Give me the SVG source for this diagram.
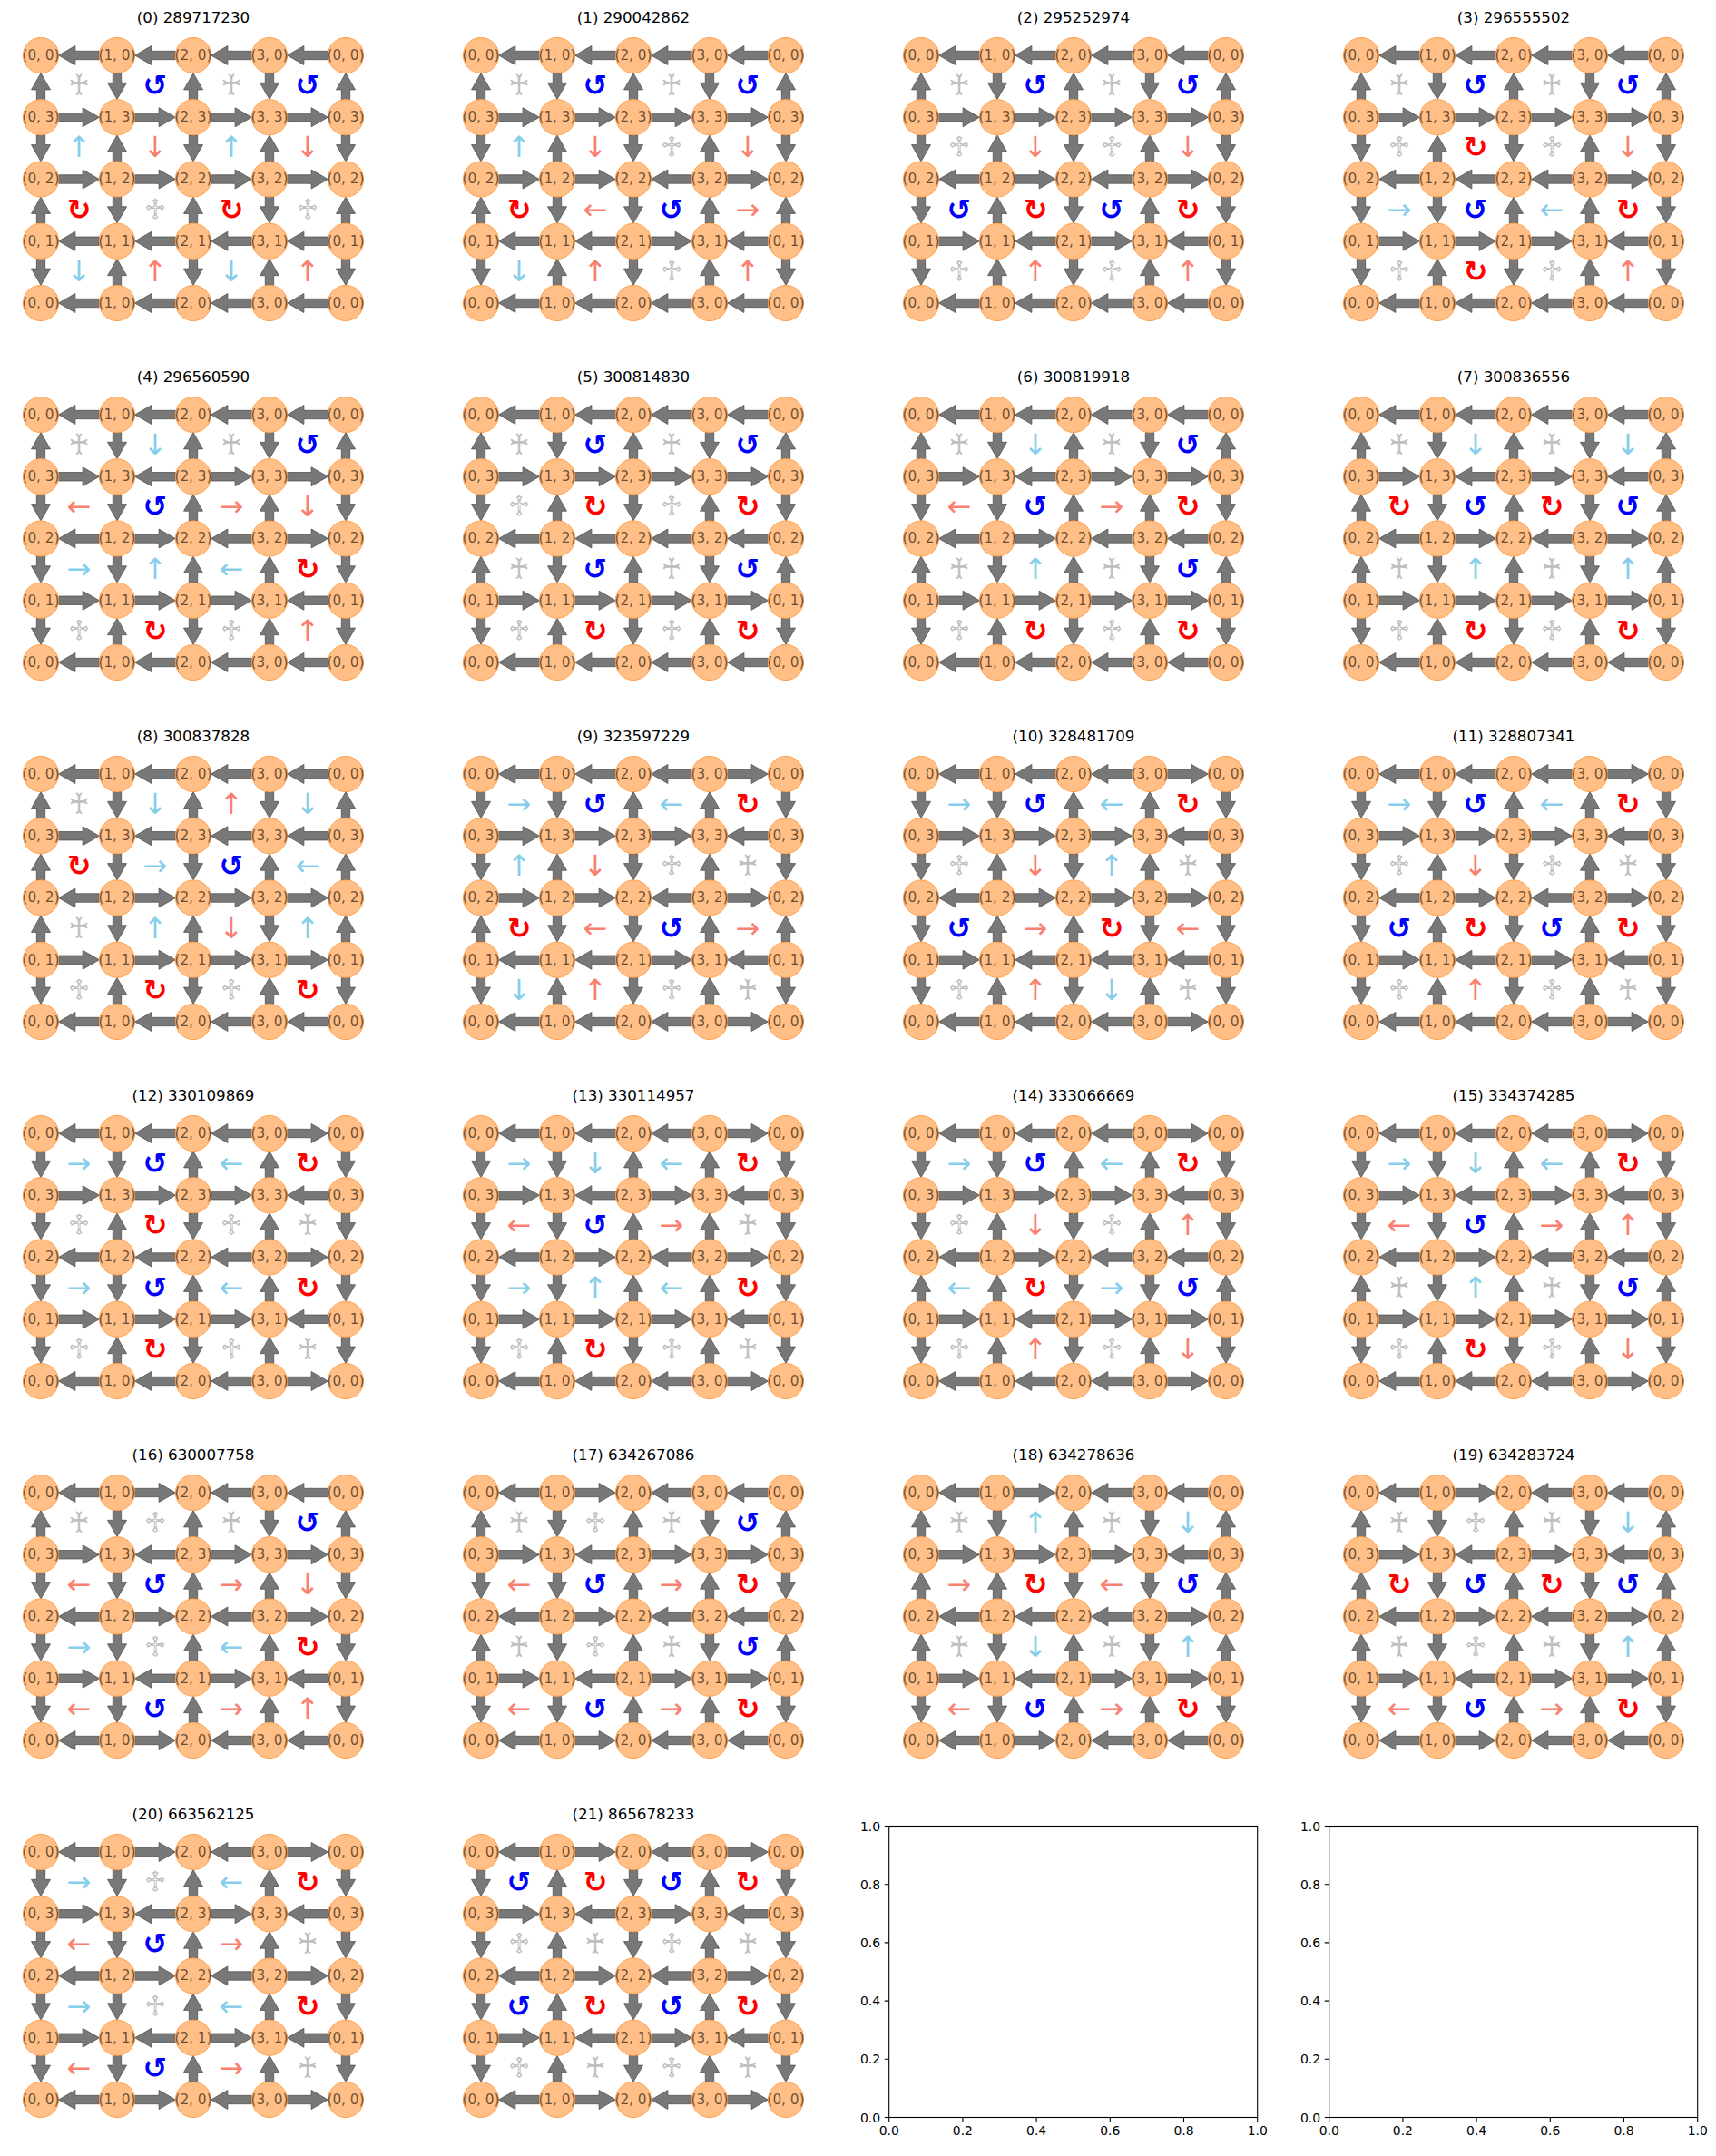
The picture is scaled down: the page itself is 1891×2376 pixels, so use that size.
<svg xmlns="http://www.w3.org/2000/svg" xmlns:xlink="http://www.w3.org/1999/xlink" width="1891" height="2376" viewBox="0 0 1891 2376">
<style>
.ar{fill:#787878;stroke:#505050;stroke-width:.8}
#grid circle{fill:#ffbf86;stroke:#ffa04c;stroke-width:1}
#grid text{font-family:"DejaVu Sans",sans-serif;font-size:15.3px;text-anchor:middle;fill:#000;fill-opacity:.6}
.t{font-family:"DejaVu Sans",sans-serif;font-size:16.67px;text-anchor:middle;fill:#000}
.s{font-family:"DejaVu Sans",sans-serif;font-size:32px;text-anchor:middle}
.bo{font-weight:bold}
.k{fill:#87ceeb}.m{fill:#fa8072}.b{fill:#0000ff}.r{fill:#ff0000}.g{fill:#c0c0c0}
.tk{font-family:"DejaVu Sans",sans-serif;font-size:13.9px;fill:#000}
</style>
<defs>
<path id="R" class="ar" d="M-22.4-4.7H4.1V-10.5L22.4 0 4.1 10.5V4.7H-22.4Z"/>
<path id="L" class="ar" d="M22.4-4.7H-4.1V-10.5L-22.4 0-4.1 10.5V4.7H22.4Z"/>
<path id="D" class="ar" d="M-4.7-14.5V-3.8H-10.5L0 14.5 10.5-3.8H4.7V-14.5Z"/>
<path id="U" class="ar" d="M-4.7 14.5V3.8H-10.5L0-14.5 10.5 3.8H4.7V14.5Z"/>
<g id="hLLLL"><use href="#L" x="87"/><use href="#L" x="171"/><use href="#L" x="255"/><use href="#L" x="339"/></g>
<g id="hRRRR"><use href="#R" x="87"/><use href="#R" x="171"/><use href="#R" x="255"/><use href="#R" x="339"/></g>
<g id="hRRLR"><use href="#R" x="87"/><use href="#R" x="171"/><use href="#L" x="255"/><use href="#R" x="339"/></g>
<g id="hLLRL"><use href="#L" x="87"/><use href="#L" x="171"/><use href="#R" x="255"/><use href="#L" x="339"/></g>
<g id="hLRLR"><use href="#L" x="87"/><use href="#R" x="171"/><use href="#L" x="255"/><use href="#R" x="339"/></g>
<g id="hRLRL"><use href="#R" x="87"/><use href="#L" x="171"/><use href="#R" x="255"/><use href="#L" x="339"/></g>
<g id="hLLLR"><use href="#L" x="87"/><use href="#L" x="171"/><use href="#L" x="255"/><use href="#R" x="339"/></g>
<g id="hRRRL"><use href="#R" x="87"/><use href="#R" x="171"/><use href="#R" x="255"/><use href="#L" x="339"/></g>
<g id="hRLRR"><use href="#R" x="87"/><use href="#L" x="171"/><use href="#R" x="255"/><use href="#R" x="339"/></g>
<g id="hLRLL"><use href="#L" x="87"/><use href="#R" x="171"/><use href="#L" x="255"/><use href="#L" x="339"/></g>
<g id="hRLLL"><use href="#R" x="87"/><use href="#L" x="171"/><use href="#L" x="255"/><use href="#L" x="339"/></g>
<g id="hLRRR"><use href="#L" x="87"/><use href="#R" x="171"/><use href="#R" x="255"/><use href="#R" x="339"/></g>
<g id="vUDUDU"><use href="#U" x="45"/><use href="#D" x="129"/><use href="#U" x="213"/><use href="#D" x="297"/><use href="#U" x="381"/></g>
<g id="vDUDUD"><use href="#D" x="45"/><use href="#U" x="129"/><use href="#D" x="213"/><use href="#U" x="297"/><use href="#D" x="381"/></g>
<g id="vUDDUU"><use href="#U" x="45"/><use href="#D" x="129"/><use href="#D" x="213"/><use href="#U" x="297"/><use href="#U" x="381"/></g>
<g id="vDDUUD"><use href="#D" x="45"/><use href="#D" x="129"/><use href="#U" x="213"/><use href="#U" x="297"/><use href="#D" x="381"/></g>
<g id="vDUUDD"><use href="#D" x="45"/><use href="#U" x="129"/><use href="#U" x="213"/><use href="#D" x="297"/><use href="#D" x="381"/></g>
<g id="vUUDDU"><use href="#U" x="45"/><use href="#U" x="129"/><use href="#D" x="213"/><use href="#D" x="297"/><use href="#U" x="381"/></g>
<g id="grid">
<g id="n00"><circle cx="45" cy="61" r="19.6"/><text x="45" y="65.8">(0, 0)</text></g>
<g id="n10"><circle cx="129" cy="61" r="19.6"/><text x="129" y="65.8">(1, 0)</text></g>
<g id="n20"><circle cx="213" cy="61" r="19.6"/><text x="213" y="65.8">(2, 0)</text></g>
<g id="n30"><circle cx="297" cy="61" r="19.6"/><text x="297" y="65.8">(3, 0)</text></g>
<g id="n40"><circle cx="381" cy="61" r="19.6"/><text x="381" y="65.8">(0, 0)</text></g>
<g id="n01"><circle cx="45" cy="129.25" r="19.6"/><text x="45" y="134.05">(0, 3)</text></g>
<g id="n11"><circle cx="129" cy="129.25" r="19.6"/><text x="129" y="134.05">(1, 3)</text></g>
<g id="n21"><circle cx="213" cy="129.25" r="19.6"/><text x="213" y="134.05">(2, 3)</text></g>
<g id="n31"><circle cx="297" cy="129.25" r="19.6"/><text x="297" y="134.05">(3, 3)</text></g>
<g id="n41"><circle cx="381" cy="129.25" r="19.6"/><text x="381" y="134.05">(0, 3)</text></g>
<g id="n02"><circle cx="45" cy="197.5" r="19.6"/><text x="45" y="202.3">(0, 2)</text></g>
<g id="n12"><circle cx="129" cy="197.5" r="19.6"/><text x="129" y="202.3">(1, 2)</text></g>
<g id="n22"><circle cx="213" cy="197.5" r="19.6"/><text x="213" y="202.3">(2, 2)</text></g>
<g id="n32"><circle cx="297" cy="197.5" r="19.6"/><text x="297" y="202.3">(3, 2)</text></g>
<g id="n42"><circle cx="381" cy="197.5" r="19.6"/><text x="381" y="202.3">(0, 2)</text></g>
<g id="n03"><circle cx="45" cy="265.75" r="19.6"/><text x="45" y="270.55">(0, 1)</text></g>
<g id="n13"><circle cx="129" cy="265.75" r="19.6"/><text x="129" y="270.55">(1, 1)</text></g>
<g id="n23"><circle cx="213" cy="265.75" r="19.6"/><text x="213" y="270.55">(2, 1)</text></g>
<g id="n33"><circle cx="297" cy="265.75" r="19.6"/><text x="297" y="270.55">(3, 1)</text></g>
<g id="n43"><circle cx="381" cy="265.75" r="19.6"/><text x="381" y="270.55">(0, 1)</text></g>
<g id="n04"><circle cx="45" cy="334" r="19.6"/><text x="45" y="338.8">(0, 0)</text></g>
<g id="n14"><circle cx="129" cy="334" r="19.6"/><text x="129" y="338.8">(1, 0)</text></g>
<g id="n24"><circle cx="213" cy="334" r="19.6"/><text x="213" y="338.8">(2, 0)</text></g>
<g id="n34"><circle cx="297" cy="334" r="19.6"/><text x="297" y="338.8">(3, 0)</text></g>
<g id="n44"><circle cx="381" cy="334" r="19.6"/><text x="381" y="338.8">(0, 0)</text></g>
</g>
<text id="su" class="s k" y="10">↑</text>
<text id="sd" class="s k" y="10">↓</text>
<text id="sl" class="s k" y="10">←</text>
<text id="sr" class="s k" y="10">→</text>
<text id="pu" class="s m" y="10">↑</text>
<text id="pd" class="s m" y="10">↓</text>
<text id="pl" class="s m" y="10">←</text>
<text id="pr" class="s m" y="10">→</text>
<text id="cc" class="s b bo" y="10">↺</text>
<text id="cw" class="s r bo" y="10">↻</text>
<text id="so" class="s g" y="10">♰</text>
<text id="st" class="s g" y="10">♱</text>
<g id="ax">
<rect width="406" height="321" fill="none" stroke="#000" stroke-width="1.1"/>
<path d="M0 321v4.9M81.2 321v4.9M162.4 321v4.9M243.6 321v4.9M324.8 321v4.9M406 321v4.9M0 321h-4.9M0 256.8h-4.9M0 192.6h-4.9M0 128.4h-4.9M0 64.2h-4.9M0 0h-4.9" stroke="#000" stroke-width="1.1"/>
<g class="tk" text-anchor="middle"><text x="0" y="340.8">0.0</text><text x="81.2" y="340.8">0.2</text><text x="162.4" y="340.8">0.4</text><text x="243.6" y="340.8">0.6</text><text x="324.8" y="340.8">0.8</text><text x="406" y="340.8">1.0</text></g>
<g class="tk" text-anchor="end"><text x="-9.7" y="326">0.0</text><text x="-9.7" y="261.8">0.2</text><text x="-9.7" y="197.6">0.4</text><text x="-9.7" y="133.4">0.6</text><text x="-9.7" y="69.2">0.8</text><text x="-9.7" y="5">1.0</text></g>
</g>
</defs>
<rect width="1891" height="2376" fill="#fff"/>

<g id="p0" transform="translate(0,0)"><text class="t" x="213" y="25">(0) 289717230</text>
<g id="p0-edges"><use href="#hLLLL" y="61"/><use href="#hRRRR" y="129.25"/><use href="#hRRRR" y="197.5"/><use href="#hLLLL" y="265.75"/><use href="#hLLLL" y="334"/><use href="#vUDUDU" y="95.1"/><use href="#vDUDUD" y="163.4"/><use href="#vUDUDU" y="231.6"/><use href="#vDUDUD" y="299.9"/></g>
<use href="#grid"/>
<g id="p0-cells"><g transform="translate(0,95.1)"><use href="#so" x="87"/><use href="#cc" x="171"/><use href="#so" x="255"/><use href="#cc" x="339"/></g><g transform="translate(0,163.4)"><use href="#su" x="87"/><use href="#pd" x="171"/><use href="#su" x="255"/><use href="#pd" x="339"/></g><g transform="translate(0,231.6)"><use href="#cw" x="87"/><use href="#st" x="171"/><use href="#cw" x="255"/><use href="#st" x="339"/></g><g transform="translate(0,299.9)"><use href="#sd" x="87"/><use href="#pu" x="171"/><use href="#sd" x="255"/><use href="#pu" x="339"/></g></g></g>

<g id="p1" transform="translate(485,0)"><text class="t" x="213" y="25">(1) 290042862</text>
<g id="p1-edges"><use href="#hLLLL" y="61"/><use href="#hRRRR" y="129.25"/><use href="#hRRLR" y="197.5"/><use href="#hLLRL" y="265.75"/><use href="#hLLLL" y="334"/><use href="#vUDUDU" y="95.1"/><use href="#vDUDUD" y="163.4"/><use href="#vUDDUU" y="231.6"/><use href="#vDUDUD" y="299.9"/></g>
<use href="#grid"/>
<g id="p1-cells"><g transform="translate(0,95.1)"><use href="#so" x="87"/><use href="#cc" x="171"/><use href="#so" x="255"/><use href="#cc" x="339"/></g><g transform="translate(0,163.4)"><use href="#su" x="87"/><use href="#pd" x="171"/><use href="#st" x="255"/><use href="#pd" x="339"/></g><g transform="translate(0,231.6)"><use href="#cw" x="87"/><use href="#pl" x="171"/><use href="#cc" x="255"/><use href="#pr" x="339"/></g><g transform="translate(0,299.9)"><use href="#sd" x="87"/><use href="#pu" x="171"/><use href="#st" x="255"/><use href="#pu" x="339"/></g></g></g>

<g id="p2" transform="translate(970,0)"><text class="t" x="213" y="25">(2) 295252974</text>
<g id="p2-edges"><use href="#hLLLL" y="61"/><use href="#hRRRR" y="129.25"/><use href="#hLRLR" y="197.5"/><use href="#hRLRL" y="265.75"/><use href="#hLLLL" y="334"/><use href="#vUDUDU" y="95.1"/><use href="#vDUDUD" y="163.4"/><use href="#vDUDUD" y="231.6"/><use href="#vDUDUD" y="299.9"/></g>
<use href="#grid"/>
<g id="p2-cells"><g transform="translate(0,95.1)"><use href="#so" x="87"/><use href="#cc" x="171"/><use href="#so" x="255"/><use href="#cc" x="339"/></g><g transform="translate(0,163.4)"><use href="#st" x="87"/><use href="#pd" x="171"/><use href="#st" x="255"/><use href="#pd" x="339"/></g><g transform="translate(0,231.6)"><use href="#cc" x="87"/><use href="#cw" x="171"/><use href="#cc" x="255"/><use href="#cw" x="339"/></g><g transform="translate(0,299.9)"><use href="#st" x="87"/><use href="#pu" x="171"/><use href="#st" x="255"/><use href="#pu" x="339"/></g></g></g>

<g id="p3" transform="translate(1455,0)"><text class="t" x="213" y="25">(3) 296555502</text>
<g id="p3-edges"><use href="#hLLLL" y="61"/><use href="#hRRRR" y="129.25"/><use href="#hLLLR" y="197.5"/><use href="#hRRRL" y="265.75"/><use href="#hLLLL" y="334"/><use href="#vUDUDU" y="95.1"/><use href="#vDUDUD" y="163.4"/><use href="#vDDUUD" y="231.6"/><use href="#vDUDUD" y="299.9"/></g>
<use href="#grid"/>
<g id="p3-cells"><g transform="translate(0,95.1)"><use href="#so" x="87"/><use href="#cc" x="171"/><use href="#so" x="255"/><use href="#cc" x="339"/></g><g transform="translate(0,163.4)"><use href="#st" x="87"/><use href="#cw" x="171"/><use href="#st" x="255"/><use href="#pd" x="339"/></g><g transform="translate(0,231.6)"><use href="#sr" x="87"/><use href="#cc" x="171"/><use href="#sl" x="255"/><use href="#cw" x="339"/></g><g transform="translate(0,299.9)"><use href="#st" x="87"/><use href="#cw" x="171"/><use href="#st" x="255"/><use href="#pu" x="339"/></g></g></g>

<g id="p4" transform="translate(0,396)"><text class="t" x="213" y="25">(4) 296560590</text>
<g id="p4-edges"><use href="#hLLLL" y="61"/><use href="#hRLRR" y="129.25"/><use href="#hLRLR" y="197.5"/><use href="#hRRRL" y="265.75"/><use href="#hLLLL" y="334"/><use href="#vUDUDU" y="95.1"/><use href="#vDDUUD" y="163.4"/><use href="#vDDUUD" y="231.6"/><use href="#vDUDUD" y="299.9"/></g>
<use href="#grid"/>
<g id="p4-cells"><g transform="translate(0,95.1)"><use href="#so" x="87"/><use href="#sd" x="171"/><use href="#so" x="255"/><use href="#cc" x="339"/></g><g transform="translate(0,163.4)"><use href="#pl" x="87"/><use href="#cc" x="171"/><use href="#pr" x="255"/><use href="#pd" x="339"/></g><g transform="translate(0,231.6)"><use href="#sr" x="87"/><use href="#su" x="171"/><use href="#sl" x="255"/><use href="#cw" x="339"/></g><g transform="translate(0,299.9)"><use href="#st" x="87"/><use href="#cw" x="171"/><use href="#st" x="255"/><use href="#pu" x="339"/></g></g></g>

<g id="p5" transform="translate(485,396)"><text class="t" x="213" y="25">(5) 300814830</text>
<g id="p5-edges"><use href="#hLLLL" y="61"/><use href="#hRRRR" y="129.25"/><use href="#hLLLL" y="197.5"/><use href="#hRRRR" y="265.75"/><use href="#hLLLL" y="334"/><use href="#vUDUDU" y="95.1"/><use href="#vDUDUD" y="163.4"/><use href="#vUDUDU" y="231.6"/><use href="#vDUDUD" y="299.9"/></g>
<use href="#grid"/>
<g id="p5-cells"><g transform="translate(0,95.1)"><use href="#so" x="87"/><use href="#cc" x="171"/><use href="#so" x="255"/><use href="#cc" x="339"/></g><g transform="translate(0,163.4)"><use href="#st" x="87"/><use href="#cw" x="171"/><use href="#st" x="255"/><use href="#cw" x="339"/></g><g transform="translate(0,231.6)"><use href="#so" x="87"/><use href="#cc" x="171"/><use href="#so" x="255"/><use href="#cc" x="339"/></g><g transform="translate(0,299.9)"><use href="#st" x="87"/><use href="#cw" x="171"/><use href="#st" x="255"/><use href="#cw" x="339"/></g></g></g>

<g id="p6" transform="translate(970,396)"><text class="t" x="213" y="25">(6) 300819918</text>
<g id="p6-edges"><use href="#hLLLL" y="61"/><use href="#hRLRR" y="129.25"/><use href="#hLRLL" y="197.5"/><use href="#hRRRR" y="265.75"/><use href="#hLLLL" y="334"/><use href="#vUDUDU" y="95.1"/><use href="#vDDUUD" y="163.4"/><use href="#vUDUDU" y="231.6"/><use href="#vDUDUD" y="299.9"/></g>
<use href="#grid"/>
<g id="p6-cells"><g transform="translate(0,95.1)"><use href="#so" x="87"/><use href="#sd" x="171"/><use href="#so" x="255"/><use href="#cc" x="339"/></g><g transform="translate(0,163.4)"><use href="#pl" x="87"/><use href="#cc" x="171"/><use href="#pr" x="255"/><use href="#cw" x="339"/></g><g transform="translate(0,231.6)"><use href="#so" x="87"/><use href="#su" x="171"/><use href="#so" x="255"/><use href="#cc" x="339"/></g><g transform="translate(0,299.9)"><use href="#st" x="87"/><use href="#cw" x="171"/><use href="#st" x="255"/><use href="#cw" x="339"/></g></g></g>

<g id="p7" transform="translate(1455,396)"><text class="t" x="213" y="25">(7) 300836556</text>
<g id="p7-edges"><use href="#hLLLL" y="61"/><use href="#hRLRL" y="129.25"/><use href="#hLRLR" y="197.5"/><use href="#hRRRR" y="265.75"/><use href="#hLLLL" y="334"/><use href="#vUDUDU" y="95.1"/><use href="#vUDUDU" y="163.4"/><use href="#vUDUDU" y="231.6"/><use href="#vDUDUD" y="299.9"/></g>
<use href="#grid"/>
<g id="p7-cells"><g transform="translate(0,95.1)"><use href="#so" x="87"/><use href="#sd" x="171"/><use href="#so" x="255"/><use href="#sd" x="339"/></g><g transform="translate(0,163.4)"><use href="#cw" x="87"/><use href="#cc" x="171"/><use href="#cw" x="255"/><use href="#cc" x="339"/></g><g transform="translate(0,231.6)"><use href="#so" x="87"/><use href="#su" x="171"/><use href="#so" x="255"/><use href="#su" x="339"/></g><g transform="translate(0,299.9)"><use href="#st" x="87"/><use href="#cw" x="171"/><use href="#st" x="255"/><use href="#cw" x="339"/></g></g></g>

<g id="p8" transform="translate(0,792)"><text class="t" x="213" y="25">(8) 300837828</text>
<g id="p8-edges"><use href="#hLLLL" y="61"/><use href="#hRLLL" y="129.25"/><use href="#hLRRR" y="197.5"/><use href="#hRRRR" y="265.75"/><use href="#hLLLL" y="334"/><use href="#vUDUDU" y="95.1"/><use href="#vUDDUU" y="163.4"/><use href="#vUDUDU" y="231.6"/><use href="#vDUDUD" y="299.9"/></g>
<use href="#grid"/>
<g id="p8-cells"><g transform="translate(0,95.1)"><use href="#so" x="87"/><use href="#sd" x="171"/><use href="#pu" x="255"/><use href="#sd" x="339"/></g><g transform="translate(0,163.4)"><use href="#cw" x="87"/><use href="#sr" x="171"/><use href="#cc" x="255"/><use href="#sl" x="339"/></g><g transform="translate(0,231.6)"><use href="#so" x="87"/><use href="#su" x="171"/><use href="#pd" x="255"/><use href="#su" x="339"/></g><g transform="translate(0,299.9)"><use href="#st" x="87"/><use href="#cw" x="171"/><use href="#st" x="255"/><use href="#cw" x="339"/></g></g></g>

<g id="p9" transform="translate(485,792)"><text class="t" x="213" y="25">(9) 323597229</text>
<g id="p9-edges"><use href="#hLLLR" y="61"/><use href="#hRRRL" y="129.25"/><use href="#hRRLR" y="197.5"/><use href="#hLLRL" y="265.75"/><use href="#hLLLR" y="334"/><use href="#vDDUUD" y="95.1"/><use href="#vDUDUD" y="163.4"/><use href="#vUDDUU" y="231.6"/><use href="#vDUDUD" y="299.9"/></g>
<use href="#grid"/>
<g id="p9-cells"><g transform="translate(0,95.1)"><use href="#sr" x="87"/><use href="#cc" x="171"/><use href="#sl" x="255"/><use href="#cw" x="339"/></g><g transform="translate(0,163.4)"><use href="#su" x="87"/><use href="#pd" x="171"/><use href="#st" x="255"/><use href="#so" x="339"/></g><g transform="translate(0,231.6)"><use href="#cw" x="87"/><use href="#pl" x="171"/><use href="#cc" x="255"/><use href="#pr" x="339"/></g><g transform="translate(0,299.9)"><use href="#sd" x="87"/><use href="#pu" x="171"/><use href="#st" x="255"/><use href="#so" x="339"/></g></g></g>

<g id="p10" transform="translate(970,792)"><text class="t" x="213" y="25">(10) 328481709</text>
<g id="p10-edges"><use href="#hLLLR" y="61"/><use href="#hRRRL" y="129.25"/><use href="#hLRRR" y="197.5"/><use href="#hRLLL" y="265.75"/><use href="#hLLLR" y="334"/><use href="#vDDUUD" y="95.1"/><use href="#vDUDUD" y="163.4"/><use href="#vDUUDD" y="231.6"/><use href="#vDUDUD" y="299.9"/></g>
<use href="#grid"/>
<g id="p10-cells"><g transform="translate(0,95.1)"><use href="#sr" x="87"/><use href="#cc" x="171"/><use href="#sl" x="255"/><use href="#cw" x="339"/></g><g transform="translate(0,163.4)"><use href="#st" x="87"/><use href="#pd" x="171"/><use href="#su" x="255"/><use href="#so" x="339"/></g><g transform="translate(0,231.6)"><use href="#cc" x="87"/><use href="#pr" x="171"/><use href="#cw" x="255"/><use href="#pl" x="339"/></g><g transform="translate(0,299.9)"><use href="#st" x="87"/><use href="#pu" x="171"/><use href="#sd" x="255"/><use href="#so" x="339"/></g></g></g>

<g id="p11" transform="translate(1455,792)"><text class="t" x="213" y="25">(11) 328807341</text>
<g id="p11-edges"><use href="#hLLLR" y="61"/><use href="#hRRRL" y="129.25"/><use href="#hLRLR" y="197.5"/><use href="#hRLRL" y="265.75"/><use href="#hLLLR" y="334"/><use href="#vDDUUD" y="95.1"/><use href="#vDUDUD" y="163.4"/><use href="#vDUDUD" y="231.6"/><use href="#vDUDUD" y="299.9"/></g>
<use href="#grid"/>
<g id="p11-cells"><g transform="translate(0,95.1)"><use href="#sr" x="87"/><use href="#cc" x="171"/><use href="#sl" x="255"/><use href="#cw" x="339"/></g><g transform="translate(0,163.4)"><use href="#st" x="87"/><use href="#pd" x="171"/><use href="#st" x="255"/><use href="#so" x="339"/></g><g transform="translate(0,231.6)"><use href="#cc" x="87"/><use href="#cw" x="171"/><use href="#cc" x="255"/><use href="#cw" x="339"/></g><g transform="translate(0,299.9)"><use href="#st" x="87"/><use href="#pu" x="171"/><use href="#st" x="255"/><use href="#so" x="339"/></g></g></g>

<g id="p12" transform="translate(0,1188)"><text class="t" x="213" y="25">(12) 330109869</text>
<g id="p12-edges"><use href="#hLLLR" y="61"/><use href="#hRRRL" y="129.25"/><use href="#hLLLR" y="197.5"/><use href="#hRRRL" y="265.75"/><use href="#hLLLR" y="334"/><use href="#vDDUUD" y="95.1"/><use href="#vDUDUD" y="163.4"/><use href="#vDDUUD" y="231.6"/><use href="#vDUDUD" y="299.9"/></g>
<use href="#grid"/>
<g id="p12-cells"><g transform="translate(0,95.1)"><use href="#sr" x="87"/><use href="#cc" x="171"/><use href="#sl" x="255"/><use href="#cw" x="339"/></g><g transform="translate(0,163.4)"><use href="#st" x="87"/><use href="#cw" x="171"/><use href="#st" x="255"/><use href="#so" x="339"/></g><g transform="translate(0,231.6)"><use href="#sr" x="87"/><use href="#cc" x="171"/><use href="#sl" x="255"/><use href="#cw" x="339"/></g><g transform="translate(0,299.9)"><use href="#st" x="87"/><use href="#cw" x="171"/><use href="#st" x="255"/><use href="#so" x="339"/></g></g></g>

<g id="p13" transform="translate(485,1188)"><text class="t" x="213" y="25">(13) 330114957</text>
<g id="p13-edges"><use href="#hLLLR" y="61"/><use href="#hRLRL" y="129.25"/><use href="#hLRLR" y="197.5"/><use href="#hRRRL" y="265.75"/><use href="#hLLLR" y="334"/><use href="#vDDUUD" y="95.1"/><use href="#vDDUUD" y="163.4"/><use href="#vDDUUD" y="231.6"/><use href="#vDUDUD" y="299.9"/></g>
<use href="#grid"/>
<g id="p13-cells"><g transform="translate(0,95.1)"><use href="#sr" x="87"/><use href="#sd" x="171"/><use href="#sl" x="255"/><use href="#cw" x="339"/></g><g transform="translate(0,163.4)"><use href="#pl" x="87"/><use href="#cc" x="171"/><use href="#pr" x="255"/><use href="#so" x="339"/></g><g transform="translate(0,231.6)"><use href="#sr" x="87"/><use href="#su" x="171"/><use href="#sl" x="255"/><use href="#cw" x="339"/></g><g transform="translate(0,299.9)"><use href="#st" x="87"/><use href="#cw" x="171"/><use href="#st" x="255"/><use href="#so" x="339"/></g></g></g>

<g id="p14" transform="translate(970,1188)"><text class="t" x="213" y="25">(14) 333066669</text>
<g id="p14-edges"><use href="#hLLLR" y="61"/><use href="#hRRRL" y="129.25"/><use href="#hLRLL" y="197.5"/><use href="#hRLRR" y="265.75"/><use href="#hLLLR" y="334"/><use href="#vDDUUD" y="95.1"/><use href="#vDUDUD" y="163.4"/><use href="#vUUDDU" y="231.6"/><use href="#vDUDUD" y="299.9"/></g>
<use href="#grid"/>
<g id="p14-cells"><g transform="translate(0,95.1)"><use href="#sr" x="87"/><use href="#cc" x="171"/><use href="#sl" x="255"/><use href="#cw" x="339"/></g><g transform="translate(0,163.4)"><use href="#st" x="87"/><use href="#pd" x="171"/><use href="#st" x="255"/><use href="#pu" x="339"/></g><g transform="translate(0,231.6)"><use href="#sl" x="87"/><use href="#cw" x="171"/><use href="#sr" x="255"/><use href="#cc" x="339"/></g><g transform="translate(0,299.9)"><use href="#st" x="87"/><use href="#pu" x="171"/><use href="#st" x="255"/><use href="#pd" x="339"/></g></g></g>

<g id="p15" transform="translate(1455,1188)"><text class="t" x="213" y="25">(15) 334374285</text>
<g id="p15-edges"><use href="#hLLLR" y="61"/><use href="#hRLRL" y="129.25"/><use href="#hLRLL" y="197.5"/><use href="#hRRRR" y="265.75"/><use href="#hLLLR" y="334"/><use href="#vDDUUD" y="95.1"/><use href="#vDDUUD" y="163.4"/><use href="#vUDUDU" y="231.6"/><use href="#vDUDUD" y="299.9"/></g>
<use href="#grid"/>
<g id="p15-cells"><g transform="translate(0,95.1)"><use href="#sr" x="87"/><use href="#sd" x="171"/><use href="#sl" x="255"/><use href="#cw" x="339"/></g><g transform="translate(0,163.4)"><use href="#pl" x="87"/><use href="#cc" x="171"/><use href="#pr" x="255"/><use href="#pu" x="339"/></g><g transform="translate(0,231.6)"><use href="#so" x="87"/><use href="#su" x="171"/><use href="#so" x="255"/><use href="#cc" x="339"/></g><g transform="translate(0,299.9)"><use href="#st" x="87"/><use href="#cw" x="171"/><use href="#st" x="255"/><use href="#pd" x="339"/></g></g></g>

<g id="p16" transform="translate(0,1584)"><text class="t" x="213" y="25">(16) 630007758</text>
<g id="p16-edges"><use href="#hLRLL" y="61"/><use href="#hRLRR" y="129.25"/><use href="#hLRLR" y="197.5"/><use href="#hRLRL" y="265.75"/><use href="#hLRLL" y="334"/><use href="#vUDUDU" y="95.1"/><use href="#vDDUUD" y="163.4"/><use href="#vDDUUD" y="231.6"/><use href="#vDDUUD" y="299.9"/></g>
<use href="#grid"/>
<g id="p16-cells"><g transform="translate(0,95.1)"><use href="#so" x="87"/><use href="#st" x="171"/><use href="#so" x="255"/><use href="#cc" x="339"/></g><g transform="translate(0,163.4)"><use href="#pl" x="87"/><use href="#cc" x="171"/><use href="#pr" x="255"/><use href="#pd" x="339"/></g><g transform="translate(0,231.6)"><use href="#sr" x="87"/><use href="#st" x="171"/><use href="#sl" x="255"/><use href="#cw" x="339"/></g><g transform="translate(0,299.9)"><use href="#pl" x="87"/><use href="#cc" x="171"/><use href="#pr" x="255"/><use href="#pu" x="339"/></g></g></g>

<g id="p17" transform="translate(485,1584)"><text class="t" x="213" y="25">(17) 634267086</text>
<g id="p17-edges"><use href="#hLRLL" y="61"/><use href="#hRLRR" y="129.25"/><use href="#hLRLL" y="197.5"/><use href="#hRLRR" y="265.75"/><use href="#hLRLL" y="334"/><use href="#vUDUDU" y="95.1"/><use href="#vDDUUD" y="163.4"/><use href="#vUDUDU" y="231.6"/><use href="#vDDUUD" y="299.9"/></g>
<use href="#grid"/>
<g id="p17-cells"><g transform="translate(0,95.1)"><use href="#so" x="87"/><use href="#st" x="171"/><use href="#so" x="255"/><use href="#cc" x="339"/></g><g transform="translate(0,163.4)"><use href="#pl" x="87"/><use href="#cc" x="171"/><use href="#pr" x="255"/><use href="#cw" x="339"/></g><g transform="translate(0,231.6)"><use href="#so" x="87"/><use href="#st" x="171"/><use href="#so" x="255"/><use href="#cc" x="339"/></g><g transform="translate(0,299.9)"><use href="#pl" x="87"/><use href="#cc" x="171"/><use href="#pr" x="255"/><use href="#cw" x="339"/></g></g></g>

<g id="p18" transform="translate(970,1584)"><text class="t" x="213" y="25">(18) 634278636</text>
<g id="p18-edges"><use href="#hLRLL" y="61"/><use href="#hRRRL" y="129.25"/><use href="#hLLLR" y="197.5"/><use href="#hRLRR" y="265.75"/><use href="#hLRLL" y="334"/><use href="#vUDUDU" y="95.1"/><use href="#vUUDDU" y="163.4"/><use href="#vUDUDU" y="231.6"/><use href="#vDDUUD" y="299.9"/></g>
<use href="#grid"/>
<g id="p18-cells"><g transform="translate(0,95.1)"><use href="#so" x="87"/><use href="#su" x="171"/><use href="#so" x="255"/><use href="#sd" x="339"/></g><g transform="translate(0,163.4)"><use href="#pr" x="87"/><use href="#cw" x="171"/><use href="#pl" x="255"/><use href="#cc" x="339"/></g><g transform="translate(0,231.6)"><use href="#so" x="87"/><use href="#sd" x="171"/><use href="#so" x="255"/><use href="#su" x="339"/></g><g transform="translate(0,299.9)"><use href="#pl" x="87"/><use href="#cc" x="171"/><use href="#pr" x="255"/><use href="#cw" x="339"/></g></g></g>

<g id="p19" transform="translate(1455,1584)"><text class="t" x="213" y="25">(19) 634283724</text>
<g id="p19-edges"><use href="#hLRLL" y="61"/><use href="#hRLRL" y="129.25"/><use href="#hLRLR" y="197.5"/><use href="#hRLRR" y="265.75"/><use href="#hLRLL" y="334"/><use href="#vUDUDU" y="95.1"/><use href="#vUDUDU" y="163.4"/><use href="#vUDUDU" y="231.6"/><use href="#vDDUUD" y="299.9"/></g>
<use href="#grid"/>
<g id="p19-cells"><g transform="translate(0,95.1)"><use href="#so" x="87"/><use href="#st" x="171"/><use href="#so" x="255"/><use href="#sd" x="339"/></g><g transform="translate(0,163.4)"><use href="#cw" x="87"/><use href="#cc" x="171"/><use href="#cw" x="255"/><use href="#cc" x="339"/></g><g transform="translate(0,231.6)"><use href="#so" x="87"/><use href="#st" x="171"/><use href="#so" x="255"/><use href="#su" x="339"/></g><g transform="translate(0,299.9)"><use href="#pl" x="87"/><use href="#cc" x="171"/><use href="#pr" x="255"/><use href="#cw" x="339"/></g></g></g>

<g id="p20" transform="translate(0,1980)"><text class="t" x="213" y="25">(20) 663562125</text>
<g id="p20-edges"><use href="#hLRLR" y="61"/><use href="#hRLRL" y="129.25"/><use href="#hLRLR" y="197.5"/><use href="#hRLRL" y="265.75"/><use href="#hLRLR" y="334"/><use href="#vDDUUD" y="95.1"/><use href="#vDDUUD" y="163.4"/><use href="#vDDUUD" y="231.6"/><use href="#vDDUUD" y="299.9"/></g>
<use href="#grid"/>
<g id="p20-cells"><g transform="translate(0,95.1)"><use href="#sr" x="87"/><use href="#st" x="171"/><use href="#sl" x="255"/><use href="#cw" x="339"/></g><g transform="translate(0,163.4)"><use href="#pl" x="87"/><use href="#cc" x="171"/><use href="#pr" x="255"/><use href="#so" x="339"/></g><g transform="translate(0,231.6)"><use href="#sr" x="87"/><use href="#st" x="171"/><use href="#sl" x="255"/><use href="#cw" x="339"/></g><g transform="translate(0,299.9)"><use href="#pl" x="87"/><use href="#cc" x="171"/><use href="#pr" x="255"/><use href="#so" x="339"/></g></g></g>

<g id="p21" transform="translate(485,1980)"><text class="t" x="213" y="25">(21) 865678233</text>
<g id="p21-edges"><use href="#hLRLR" y="61"/><use href="#hRLRL" y="129.25"/><use href="#hLRLR" y="197.5"/><use href="#hRLRL" y="265.75"/><use href="#hLRLR" y="334"/><use href="#vDUDUD" y="95.1"/><use href="#vDUDUD" y="163.4"/><use href="#vDUDUD" y="231.6"/><use href="#vDUDUD" y="299.9"/></g>
<use href="#grid"/>
<g id="p21-cells"><g transform="translate(0,95.1)"><use href="#cc" x="87"/><use href="#cw" x="171"/><use href="#cc" x="255"/><use href="#cw" x="339"/></g><g transform="translate(0,163.4)"><use href="#st" x="87"/><use href="#so" x="171"/><use href="#st" x="255"/><use href="#so" x="339"/></g><g transform="translate(0,231.6)"><use href="#cc" x="87"/><use href="#cw" x="171"/><use href="#cc" x="255"/><use href="#cw" x="339"/></g><g transform="translate(0,299.9)"><use href="#st" x="87"/><use href="#so" x="171"/><use href="#st" x="255"/><use href="#so" x="339"/></g></g></g>

<g id="axes22"><use href="#ax" x="979.7" y="2012.5"/></g>
<g id="axes23"><use href="#ax" x="1464.7" y="2012.5"/></g>
</svg>
